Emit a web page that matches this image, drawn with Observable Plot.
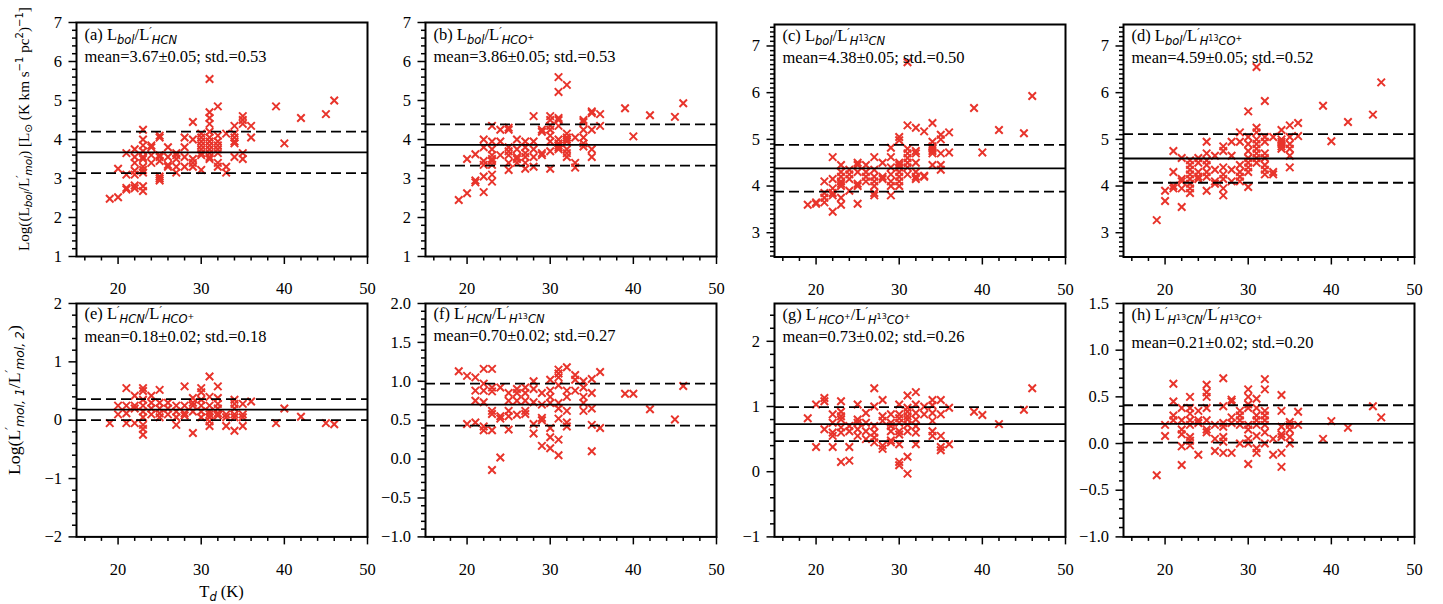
<!DOCTYPE html>
<html><head><meta charset="utf-8">
<script src="https://cdn.jsdelivr.net/npm/d3@7"></script>
<script src="https://cdn.jsdelivr.net/npm/@observablehq/plot@0.6"></script>
<style>
html,body{margin:0;padding:0;background:#fff;}
#wrap{position:relative;width:1443px;height:604px;overflow:hidden;background:#fff;}
#wrap > svg{position:absolute;}
text{white-space:pre;}
</style></head><body><div id="wrap"></div>
<script>
// ---- data: [T_d, [values at that T_d]] ----
const dataA = [
[19,[2.48]],[20,[2.52,3.25]],[21,[3.65,3.1,2.76,2.72]],
[22,[3.75,3.55,3.4,3.2,3.1,2.82,2.75]],
[23,[4.25,4.0,3.85,3.7,3.55,3.5,3.3,3.22,3.15,2.8,2.68]],
[24,[3.85,3.8,3.6,3.4]],[25,[4.1,4.05,3.6,3.55,3.45,3.05,3.0,2.95]],
[26,[3.8,3.55,3.35,3.3]],[27,[3.65,3.6,3.5,3.3,3.15]],[28,[4.05,3.8,3.55,3.3]],
[29,[4.45,4.0,3.5,3.4,3.3]],[30,[4.15,4.05,3.95,3.85,3.75,3.65,3.6,3.22]],
[31,[5.55,4.7,4.55,4.4,4.2,4.05,3.95,3.85,3.75,3.65,3.55,3.5]],
[32,[4.85,4.1,3.95,3.85,3.75,3.65,3.4,3.3]],[33,[4.15,3.3,3.15]],
[34,[4.35,4.15,4.05,3.95,3.9,3.55]],[35,[4.6,4.5,4.4,3.65,3.5]],[36,[4.35,4.05]],
[39,[4.85]],[40,[3.9]],[42,[4.55]],[45,[4.65]],[46,[5.0]]
];
const dataB = [
[19,[2.45]],[20,[2.62,3.5]],[21,[3.62,2.95,2.9]],
[22,[4.0,3.8,3.45,3.35,3.05,2.65]],
[23,[4.35,3.95,3.75,3.6,3.5,3.45,3.35,3.1,2.92]],
[24,[4.25,3.95,3.6]],[25,[4.3,4.25,3.8,3.7,3.6,3.4,3.22]],
[26,[4.0,3.75,3.55,3.5,3.4]],[27,[3.95,3.8,3.65,3.55,3.4,3.25]],
[28,[4.6,3.95,3.75,3.55,3.3]],[29,[4.25,4.2,3.65,3.6]],
[30,[4.6,4.5,4.35,4.25,4.1,3.95,3.7,3.25]],
[31,[5.6,5.22,4.55,4.5,4.35,4.0,3.9,3.85,3.8,3.75]],
[32,[5.4,4.15,4.05,4.0,3.95,3.75,3.65,3.55]],[33,[4.05,3.4,3.28]],
[34,[4.5,4.45,4.25,4.05,3.9,3.82]],[35,[4.72,4.68,4.25,3.75,3.55]],[36,[4.65,4.35]],
[39,[4.8]],[40,[4.08]],[42,[4.62]],[45,[4.58]],[46,[4.93]]
];
const dataC = [
[19,[3.6]],[20,[3.65,3.62]],[21,[4.1,3.85,3.75,3.65]],
[22,[4.62,4.15,3.95,3.85,3.8,3.45]],
[23,[4.45,4.3,4.2,4.1,4.05,4.0,3.75,3.6]],
[24,[4.35,4.25,4.15,3.9]],[25,[4.5,4.45,4.3,4.05,4.0,3.62]],
[26,[4.45,4.3,4.2,4.1]],[27,[4.62,4.35,4.2,4.1,4.0,3.85,3.8]],
[28,[4.5,4.2,4.15]],[29,[4.82,4.62,4.4,4.25,4.1,4.0,3.8]],
[30,[5.05,4.98,4.5,4.45,4.4,4.3,4.2,4.1,4.0]],
[31,[6.65,5.3,4.8,4.7,4.6,4.5,4.4,4.25]],
[32,[5.25,4.75,4.7,4.5,4.3,4.2,4.15]],[33,[5.17,4.22,4.2]],
[34,[5.35,4.95,4.85,4.8,4.75,4.7,4.45]],[35,[5.1,5.0,4.7,4.45,4.35]],[36,[5.15,4.72]],
[39,[5.67]],[40,[4.72]],[42,[5.2]],[45,[5.13]],[46,[5.93]]
];
const dataD = [
[19,[3.27]],[20,[3.9,3.68]],[21,[4.75,4.3,4.0,3.95]],
[22,[4.6,4.15,4.1,3.95,3.55]],
[23,[4.55,4.45,4.35,4.25,4.15,4.05,3.95,3.85]],
[24,[4.6,4.5,4.3,4.2,4.15]],[25,[4.95,4.7,4.55,4.45,4.3,4.2,3.9]],
[26,[4.65,4.35,4.1,4.05]],[27,[4.85,4.75,4.4,4.25,4.15,3.95,3.8]],
[28,[4.95,4.65,4.35,4.1]],[29,[5.15,4.95,4.45,4.3,4.2,4.1]],
[30,[5.6,5.05,4.9,4.75,4.6,4.5,4.4,4.3,3.98]],
[31,[6.55,5.25,5.15,5.0,4.9,4.8,4.7,4.6,4.5]],
[32,[5.82,5.05,4.95,4.7,4.6,4.45,4.35,4.25]],[33,[5.05,4.3,4.25]],
[34,[5.2,5.0,4.95,4.9,4.85,4.8]],[35,[5.3,5.05,4.9,4.8,4.65,4.4]],[36,[5.35,5.07]],
[39,[5.72]],[40,[4.96]],[42,[5.37]],[45,[5.53]],[46,[6.22]]
];
const dataE = [
[19,[-0.05]],[20,[0.25,0.1]],[21,[0.55,0.25,0.12,-0.05]],
[22,[0.42,0.25,0.2,-0.05]],
[23,[0.55,0.5,0.35,0.25,0.15,0.05,-0.08,-0.15,-0.25]],
[24,[0.42,0.3,0.2,0.1]],[25,[0.52,0.3,0.2,0.12,0.05]],
[26,[0.3,0.2,0.1]],[27,[0.25,0.15,0.05,-0.08]],[28,[0.58,0.25,0.12,0.08]],
[29,[0.38,0.3,0.25,0.15,-0.22]],[30,[0.55,0.48,0.35,0.25,0.15,0.05]],
[31,[0.75,0.4,0.25,0.15,0.1,0.05,-0.02,-0.1]],
[32,[0.58,0.38,0.28,0.2,0.12,0.08]],[33,[0.1,0.05,-0.1]],
[34,[0.35,0.28,0.2,0.1,0.05,-0.18]],[35,[0.28,0.1,0.05,-0.1]],[36,[0.32]],
[39,[-0.05]],[40,[0.2]],[42,[0.06]],[45,[-0.05]],[46,[-0.07]]
];
const dataF = [
[19,[1.13]],[20,[1.07,0.45]],[21,[1.05,0.88,0.75,0.47]],
[22,[1.16,0.97,0.88,0.73,0.42,0.37]],
[23,[1.16,0.92,0.87,0.62,0.58,0.37,-0.14]],
[24,[0.92,0.55,0.52,0.02]],[25,[0.85,0.75,0.62,0.55,0.38]],
[26,[0.9,0.85,0.75,0.57]],[27,[0.92,0.85,0.75,0.62,0.58]],
[28,[1.0,0.9,0.73,0.45,0.33]],[29,[0.85,0.7,0.53,0.5,0.17]],
[30,[1.02,0.88,0.8,0.72,0.4,0.28,0.14]],
[31,[1.15,1.1,1.05,0.95,0.72,0.65,0.52,0.25,0.05]],
[32,[1.18,0.88,0.8,0.62,0.47,0.42]],[33,[1.08,1.02,0.88]],
[34,[1.0,0.92,0.8,0.72,0.62]],[35,[1.03,0.85,0.65,0.44,0.1]],[36,[1.12,0.4]],
[39,[0.84]],[40,[0.84]],[42,[0.64]],[45,[0.51]],[46,[0.94]]
];
const dataG = [
[19,[0.82]],[20,[1.03,0.38]],[21,[1.13,1.08,0.65]],
[22,[0.88,0.75,0.6,0.55,0.38]],
[23,[1.08,0.92,0.85,0.8,0.68,0.6,0.15]],
[24,[0.7,0.62,0.38,0.17]],[25,[1.03,0.8,0.75,0.65,0.55]],
[26,[0.9,0.75,0.62,0.5]],[27,[1.28,1.0,0.7,0.6,0.52,0.45]],
[28,[1.1,0.85,0.78,0.4,0.35]],[29,[0.88,0.75,0.7,0.62,0.48,0.45]],
[30,[1.03,0.88,0.82,0.75,0.62,0.57,0.42,0.15,0.1]],
[31,[1.17,0.98,0.92,0.85,0.8,0.72,0.62,0.23,-0.03]],
[32,[1.22,1.03,0.9,0.8,0.7,0.6,0.42]],[33,[1.0,0.88]],
[34,[1.1,1.02,0.9,0.78,0.62,0.55]],[35,[1.1,0.88,0.55,0.38,0.33]],[36,[0.98,0.42]],
[39,[0.92]],[40,[0.87]],[42,[0.73]],[45,[0.95]],[46,[1.28]]
];
const dataH = [
[19,[-0.34]],[20,[0.2,0.08]],[21,[0.64,0.45,0.3,0.25]],
[22,[0.38,0.25,0.15,0.1,-0.03,-0.23]],
[23,[0.5,0.38,0.32,0.25,0.2,0.07,0.03,-0.02]],
[24,[0.35,0.25,0.22,-0.12]],[25,[0.63,0.55,0.5,0.38,0.25,0.15,0.12]],
[26,[0.2,0.05,-0.08]],[27,[0.7,0.4,0.22,0.18,0.07,0.02,-0.1]],
[28,[0.47,0.45,0.28,0.22,-0.1]],[29,[0.35,0.3,0.25,0.2,0.0]],
[30,[0.58,0.5,0.42,0.38,0.2,0.15,0.05,0.0,-0.22]],
[31,[0.48,0.38,0.3,0.25,0.2,0.08,-0.05,-0.1]],
[32,[0.69,0.58,0.35,0.3,0.25,0.2,0.12,0.0]],[33,[0.05,-0.12]],
[34,[0.52,0.35,0.18,0.1,0.07,-0.1,-0.25]],[35,[0.23,0.2,0.15,0.07,0.0]],[36,[0.34,0.2]],
[39,[0.05]],[40,[0.24]],[42,[0.17]],[45,[0.4]],[46,[0.28]]
];
// mean / std per panel
const means = [3.67, 3.86, 4.38, 4.59, 0.18, 0.70, 0.73, 0.21];
const stds  = [0.53, 0.53, 0.50, 0.52, 0.18, 0.27, 0.26, 0.20];
const stats = [
 "mean=3.67±0.05; std.=0.53","mean=3.86±0.05; std.=0.53",
 "mean=4.38±0.05; std.=0.50","mean=4.59±0.05; std.=0.52",
 "mean=0.18±0.02; std.=0.18","mean=0.70±0.02; std.=0.27",
 "mean=0.73±0.02; std.=0.26","mean=0.21±0.02; std.=0.20"];
// tick values
const xMajor = [20,30,40,50];
const xMinor = [16,18,22,24,26,28,32,34,36,38,42,44,46,48];
const yMajors = [
 [1,2,3,4,5,6,7],[1,2,3,4,5,6,7],[3,4,5,6,7],[3,4,5,6,7],
 [-2,-1,0,1,2],[-1,-0.5,0,0.5,1,1.5,2],[-1,0,1,2],[-1,-0.5,0,0.5,1,1.5]];
// titles: [text, kind]
const titles = [
 [["(a) L","n"],["bol","i"],["/L","n"],["′","p"],["HCN","i"]],
 [["(b) L","n"],["bol","i"],["/L","n"],["′","p"],["HCO","i"],["+","s"]],
 [["(c) L","n"],["bol","i"],["/L","n"],["′","p"],["H","i"],["13","s"],["CN","i"]],
 [["(d) L","n"],["bol","i"],["/L","n"],["′","p"],["H","i"],["13","s"],["CO","i"],["+","s"]],
 [["(e) L","n"],["′","p"],["HCN","i"],["/L","n"],["′","p"],["HCO","i"],["+","s"]],
 [["(f) L","n"],["′","p"],["HCN","i"],["/L","n"],["′","p"],["H","i"],["13","s"],["CN","i"]],
 [["(g) L","n"],["′","p"],["HCO","i"],["+","s"],["/L","n"],["′","p"],["H","i"],["13","s"],["CO","i"],["+","s"]],
 [["(h) L","n"],["′","p"],["H","i"],["13","s"],["CN","i"],["/L","n"],["′","p"],["H","i"],["13","s"],["CO","i"],["+","s"]]
];
const ylabel1 = [["Log((L","n"],["bol","i"],["/L","n"],["′","p"],["mol","i"],[") [L","n"],["⊙","u"],[" (K km s","n"],["−1","S"],[" pc","n"],["2","S"],[")","n"],["−1","S"],["]","n"]];
const ylabel2 = [["Log(L","n"],["′","p"],["mol, 1","i"],["/L","n"],["′","p"],["mol, 2","i"],[")","n"]];
const xlabel = [["T","n"],["d","i"],[" (K)","n"]];

// ---- layout / style ----
const RED = "#e8342b";
const FS = 16.5;
const KINDS = {
  n:{f:"Liberation Serif", s:FS, sh:0, st:"normal"},
  i:{f:"DejaVu Sans", s:11.5, sh:4, st:"italic"},
  u:{f:"DejaVu Sans", s:11.5, sh:4, st:"normal"},
  s:{f:"DejaVu Sans", s:8, sh:-0.5, st:"normal"},
  p:{f:"DejaVu Sans", s:11, sh:-5, st:"italic"},
  S:{f:"DejaVu Sans", s:11, sh:-6.5, st:"normal"}
};
function mathText(parent, x, y, segs, anchor="start") {
  const t = parent.append("text").attr("x", x).attr("y", y)
    .attr("text-anchor", anchor).attr("fill", "black").style("white-space","pre");
  let cur = 0;
  for (const [str, kind] of segs) {
    const k = KINDS[kind];
    t.append("tspan").attr("font-family", k.f).attr("font-size", k.s)
      .attr("font-style", k.st).attr("dy", k.sh - cur).text(str);
    cur = k.sh;
  }
  return t;
}
// rotated label fitted to a given length, starting at (x, yStart) going up
function vLabel(parent, x, yStart, segs, length) {
  const g = parent.append("g");
  const t = mathText(g, 0, 0, segs, "start");
  const len = t.node().getComputedTextLength();
  const k = len > 0 ? length / len : 1;
  g.attr("transform", `translate(${x},${yStart}) rotate(-90) scale(${k})`);
}

const datas = [dataA,dataB,dataC,dataD,dataE,dataF,dataG,dataH];
const geo = [
 {left:75.7, top:22, bottom:256, ydom:[1,7], minor:0.2, fmt:"d", t1:18, t2:39.5},
 {left:425.2, top:22, bottom:256, ydom:[1,7], minor:0.2, fmt:"d", t1:18, t2:39.5},
 {left:773.5, top:23.5, bottom:256, ydom:[2.48,7.46], minor:0.1, fmt:"d", t1:17, t2:39},
 {left:1122.5, top:23.5, bottom:256, ydom:[2.48,7.46], minor:0.1, fmt:"d", t1:17, t2:39},
 {left:75.7, top:303.3, bottom:536.7, ydom:[-2,2], minor:0.2, fmt:"d", t1:16.5, t2:39.4},
 {left:425.2, top:303.3, bottom:536.7, ydom:[-1,2], minor:0.1, fmt:".1f", t1:16.5, t2:38.5},
 {left:773.5, top:303.3, bottom:536.7, ydom:[-1,2.58], minor:0.2, fmt:"d", t1:17, t2:38.8},
 {left:1122.5, top:303.3, bottom:536.7, ydom:[-1,1.5], minor:0.1, fmt:".1f", t1:17.4, t2:45}
];
const PW = 291, ML = 55, MR = 3, MT = 6, MB = 40;
const wrap = document.getElementById("wrap");

datas.forEach((data, i) => {
  const g = geo[i];
  const flat = data.flatMap(([t, vs]) => vs.map(v => ({t, v})));
  const majors = yMajors[i];
  const n0 = Math.ceil(g.ydom[0]/g.minor - 1e-6), n1 = Math.floor(g.ydom[1]/g.minor + 1e-6);
  const yMinor = d3.range(n0, n1 + 1).map(k => +(k*g.minor).toFixed(3))
    .filter(v => !majors.some(m => Math.abs(m - v) < 1e-6));
  const h = g.bottom - g.top;
  const m = means[i], s = stds[i];
  const svg = Plot.plot({
    width: ML + PW + MR, height: MT + h + MB,
    marginLeft: ML, marginRight: MR, marginTop: MT, marginBottom: MB,
    x: {domain: [15, 50], label: null},
    y: {domain: g.ydom, label: null},
    style: {fontFamily: "Liberation Serif", fontSize: FS + "px", color: "black", background: "transparent", overflow: "visible"},
    marks: [
      Plot.dot(flat, {x: "t", y: "v", symbol: "times", r: 3.5, stroke: RED, strokeWidth: 2}),
      Plot.ruleY([m], {stroke: "black", strokeWidth: 1.8}),
      Plot.ruleY([m - s, m + s], {stroke: "black", strokeWidth: 1.8, strokeDasharray: "10,5"}),
      Plot.frame({stroke: "black", strokeWidth: 2}),
      Plot.axisX(xMinor, {tickSize: 4.5, tickFormat: () => "", strokeWidth: 1.5, label: null}),
      Plot.axisX(xMajor, {tickSize: 8, tickPadding: 18, strokeWidth: 1.5, tickFormat: d3.format("d"), label: null}),
      Plot.axisY(yMinor, {tickSize: 4, tickFormat: () => "", strokeWidth: 1.5, label: null}),
      Plot.axisY(majors, {tickSize: 7.5, tickPadding: 7, strokeWidth: 1.5, tickFormat: d3.format(g.fmt), label: null})
    ]
  });
  svg.style.position = "absolute";
  svg.style.left = (g.left - ML) + "px";
  svg.style.top = (g.top - MT) + "px";
  const sel = d3.select(svg);
  mathText(sel, ML + 8.5, MT + g.t1, titles[i]);
  mathText(sel, ML + 8.5, MT + g.t2, [[stats[i], "n"]]);
  wrap.appendChild(svg);
});

// overlay labels
const ov = d3.create("svg").attr("width", 1443).attr("height", 604)
  .style("position", "absolute").style("left", "0px").style("top", "0px")
  .style("pointer-events", "none").style("overflow", "visible");
wrap.appendChild(ov.node());
vLabel(ov, 28.5, 251, ylabel1, 244);
vLabel(ov, 19.5, 475, ylabel2, 150);
mathText(ov, 221.5, 597, xlabel, "middle");
</script></body></html>
